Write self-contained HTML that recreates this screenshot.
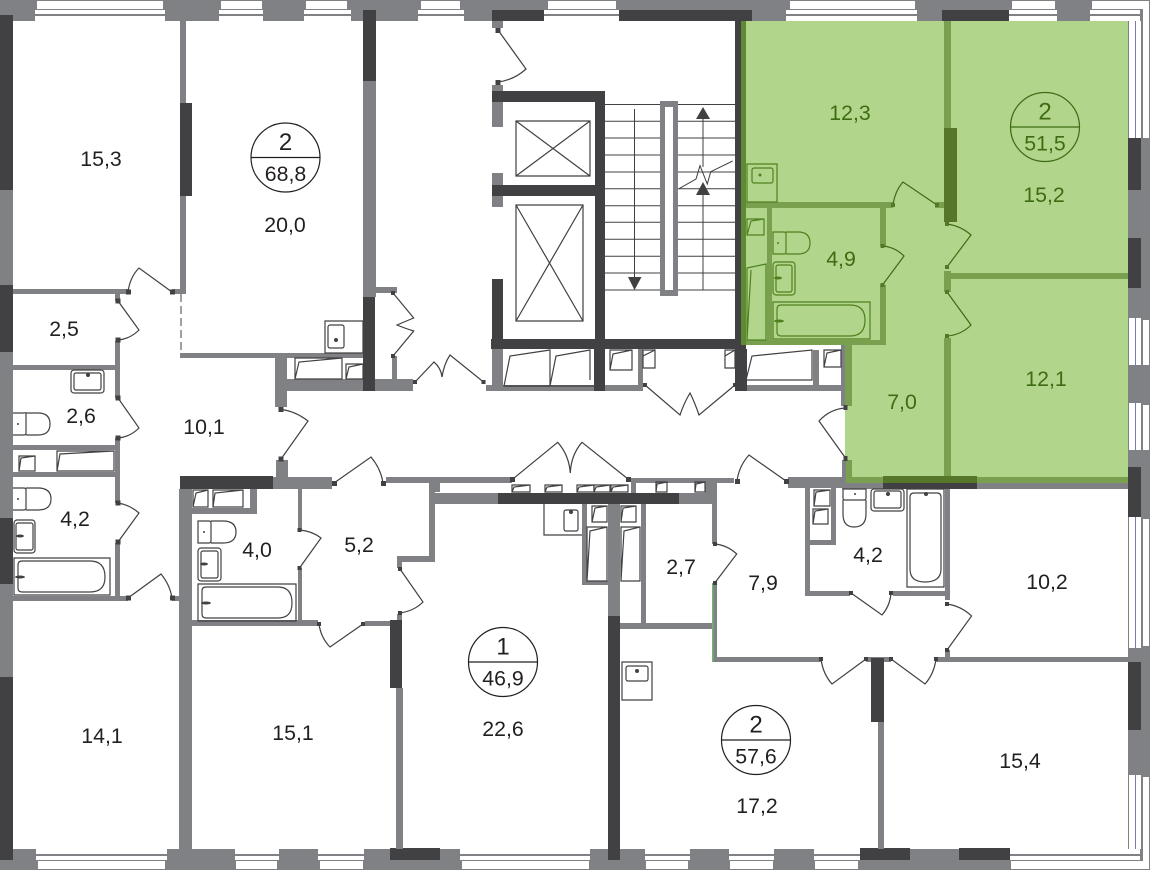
<!DOCTYPE html>
<html><head><meta charset="utf-8"><style>
html,body{margin:0;padding:0;background:#fff}
svg{display:block}
.w{fill:#808184}.d{fill:#414042}.g{fill:#78a04e}.dg{fill:#56762a}.wh{fill:#fff}
.f{fill:none;stroke:#414042;stroke-width:1.2}
.gf{fill:none;stroke:#4f7f1f;stroke-width:1.2}
.th{fill:none;stroke:#414042;stroke-width:1}
text{font-family:"Liberation Sans",sans-serif;font-size:21.3px;text-anchor:middle;fill:#231f20}
.gt text,text.gt{fill:#3f6b12}
</style></head><body>
<svg width="1150" height="870" viewBox="0 0 1150 870" xmlns="http://www.w3.org/2000/svg">
<rect width="1150" height="870" fill="#fff"/>
<!-- green apartment -->
<polygon points="743,21 1128,21 1128,484 845,484 845,345 743,345" fill="#b1d68b"/>
<!-- outer frame -->
<g class="w">
<rect x="0" y="0" width="1150" height="21"/>
<rect x="0" y="849" width="1150" height="21"/>
<rect x="0" y="0" width="13" height="870"/>
<rect x="1128" y="0" width="22" height="870"/>
</g>
<g class="d">
<rect x="0" y="15" width="13" height="175"/><rect x="0" y="285" width="13" height="67"/><rect x="0" y="518" width="13" height="66"/><rect x="0" y="677" width="13" height="183"/>
<rect x="492" y="10" width="52" height="11"/><rect x="619" y="10" width="133" height="11"/><rect x="942" y="10" width="67" height="11"/>
<rect x="390" y="848" width="50" height="12"/><rect x="860" y="848" width="50" height="12"/><rect x="959" y="848" width="51" height="12"/>
<rect x="1128" y="138" width="13" height="52"/><rect x="1128" y="238" width="13" height="50"/><rect x="1128" y="467" width="13" height="50"/><rect x="1128" y="662" width="13" height="68"/>
</g>
<!-- windows top -->
<g class="wh">
<rect x="37" y="1" width="126" height="8"/><rect x="35" y="10" width="130" height="4"/><rect x="35" y="16" width="130" height="5"/>
<rect x="221" y="1" width="41" height="8"/><rect x="219" y="10" width="44" height="4"/><rect x="219" y="16" width="44" height="5"/>
<rect x="306" y="1" width="41" height="8"/><rect x="304" y="10" width="47" height="4"/><rect x="304" y="16" width="47" height="5"/>
<rect x="421" y="1" width="39" height="8"/><rect x="418" y="10" width="46" height="4"/><rect x="418" y="16" width="46" height="5"/>
<rect x="548" y="1" width="68" height="8"/><rect x="544" y="10" width="75" height="4"/><rect x="544" y="16" width="75" height="5"/>
<rect x="790" y="1" width="125" height="8"/><rect x="786" y="10" width="131" height="4"/><rect x="786" y="16" width="131" height="5"/>
<rect x="1012" y="1" width="43" height="8"/><rect x="1009" y="10" width="48" height="4"/><rect x="1009" y="16" width="48" height="5"/>
<rect x="1092" y="1" width="57" height="8"/><rect x="1090" y="10" width="50" height="4"/><rect x="1090" y="16" width="50" height="5"/>
<!-- bottom -->
<rect x="36" y="849" width="131" height="5"/><rect x="36" y="856" width="131" height="4"/><rect x="38" y="861" width="127" height="8"/>
<rect x="235" y="849" width="44" height="5"/><rect x="235" y="856" width="44" height="4"/><rect x="236" y="861" width="41" height="8"/>
<rect x="318" y="849" width="46" height="5"/><rect x="318" y="856" width="46" height="4"/><rect x="320" y="861" width="43" height="8"/>
<rect x="460" y="849" width="130" height="5"/><rect x="460" y="856" width="130" height="4"/><rect x="462" y="861" width="127" height="8"/>
<rect x="645" y="849" width="45" height="5"/><rect x="645" y="856" width="45" height="4"/><rect x="646" y="861" width="42" height="8"/>
<rect x="729" y="849" width="45" height="5"/><rect x="729" y="856" width="45" height="4"/><rect x="730" y="861" width="43" height="8"/>
<rect x="814" y="849" width="46" height="5"/><rect x="814" y="856" width="46" height="4"/><rect x="815" y="861" width="43" height="8"/>
<rect x="1010" y="849" width="130" height="5"/><rect x="1010" y="856" width="130" height="4"/><rect x="1011" y="861" width="138" height="8"/>
<!-- right side -->
<rect x="1129" y="21" width="6" height="117"/><rect x="1136" y="21" width="5" height="117"/><rect x="1143" y="1" width="6" height="137"/>
<rect x="1129" y="318" width="6" height="47"/><rect x="1136" y="318" width="5" height="47"/><rect x="1143" y="320" width="6" height="45"/>
<rect x="1129" y="403" width="6" height="47"/><rect x="1136" y="403" width="5" height="47"/><rect x="1143" y="405" width="6" height="45"/>
<rect x="1129" y="517" width="6" height="131"/><rect x="1136" y="517" width="5" height="131"/><rect x="1143" y="519" width="6" height="127"/>
<rect x="1129" y="775" width="6" height="74"/><rect x="1136" y="775" width="5" height="74"/><rect x="1143" y="777" width="6" height="92"/>
</g>
<path d="M1135.5,775V849M1135.5,517V648M1135.5,403V450M1135.5,318V365M1135.5,21V138" stroke="#7a7aa8" stroke-width="1" fill="none"/>
<!-- interior gray walls -->
<g class="w">
<rect x="180" y="21" width="6" height="273"/><rect x="13" y="289" width="115" height="5"/><rect x="172" y="289" width="14" height="5"/>
<rect x="180" y="353" width="184" height="5"/>
<rect x="363" y="81" width="13" height="216"/>
<rect x="375" y="287" width="22" height="6"/>
<rect x="392" y="356" width="5" height="24"/>
<rect x="275" y="379" width="138" height="12"/>
<rect x="275" y="357" width="12" height="50"/><rect x="275" y="357" width="5" height="24"/>
<rect x="486" y="385" width="157" height="6"/>
<rect x="492" y="102" width="11" height="25"/><rect x="492" y="173" width="11" height="12"/><rect x="492" y="196" width="11" height="11"/>
<rect x="492" y="21" width="11" height="7"/><rect x="492" y="85" width="11" height="6"/>
<rect x="492" y="349" width="11" height="36"/><rect x="638" y="349" width="5" height="36"/>
<rect x="746" y="385" width="99" height="6"/>
<rect x="813" y="350" width="6" height="35"/><rect x="841" y="345" width="5" height="61"/>
<!-- left baths -->
<rect x="115" y="294" width="5" height="7"/><rect x="115" y="341" width="5" height="57"/><rect x="13" y="365" width="102" height="5"/>
<rect x="115" y="438" width="5" height="65"/><rect x="13" y="445" width="107" height="5"/><rect x="13" y="472" width="107" height="5"/>
<rect x="115" y="543" width="5" height="55"/><rect x="13" y="596" width="115" height="5"/><rect x="172" y="596" width="8" height="5"/>
<!-- lower-left -->
<rect x="276" y="460" width="12" height="18"/><rect x="273" y="477" width="59" height="12"/>
<rect x="386" y="477" width="126" height="6"/><rect x="429" y="477" width="11" height="15"/>
<rect x="179" y="489" width="13" height="360"/><rect x="192" y="508" width="65" height="6"/><rect x="250" y="489" width="7" height="25"/>
<rect x="298" y="489" width="4" height="41"/><rect x="298" y="568" width="4" height="55"/>
<rect x="192" y="620" width="126" height="6"/><rect x="365" y="621" width="26" height="5"/>
<rect x="429" y="482" width="6" height="80"/><rect x="400" y="556" width="35" height="6"/><rect x="397" y="556" width="5" height="12"/>
<rect x="397" y="614" width="5" height="8"/><rect x="396" y="688" width="7" height="161"/>
<rect x="435" y="493" width="64" height="11"/>
<!-- center -->
<rect x="631" y="478" width="103" height="5"/><rect x="631" y="478" width="5" height="15"/><rect x="679" y="493" width="38" height="11"/>
<rect x="705" y="478" width="12" height="15"/>
<rect x="712" y="504" width="5" height="40"/><rect x="712" y="583" width="5" height="77"/>
<rect x="608" y="504" width="12" height="112"/>
<rect x="641" y="504" width="5" height="119"/><rect x="620" y="623" width="93" height="6"/>
<rect x="582" y="504" width="5" height="81"/><rect x="582" y="581" width="26" height="4"/>
<rect x="713" y="657" width="108" height="5"/><rect x="866" y="657" width="25" height="5"/><rect x="936" y="657" width="192" height="5"/>
<rect x="878" y="722" width="6" height="127"/>
<!-- right block -->
<rect x="788" y="477" width="54" height="11"/><rect x="842" y="460" width="5" height="28"/>
<rect x="842" y="483" width="286" height="6"/>
<rect x="805" y="488" width="5" height="108"/><rect x="805" y="591" width="45" height="5"/><rect x="893" y="591" width="52" height="5"/>
<rect x="831" y="488" width="5" height="57"/><rect x="805" y="540" width="31" height="5"/>
<rect x="945" y="488" width="5" height="112"/><rect x="945" y="650" width="5" height="10"/>
</g>
<rect x="712" y="583" width="1.5" height="79" fill="#6fb56f"/>
<!-- dark walls -->
<g class="d">
<rect x="180" y="103" width="12" height="93"/>
<rect x="363" y="10" width="13" height="71"/><rect x="363" y="297" width="12" height="94"/>
<rect x="492" y="91" width="113" height="11"/><rect x="595" y="91" width="10" height="249"/><rect x="492" y="185" width="113" height="11"/>
<rect x="492" y="279" width="11" height="61"/><rect x="491" y="339" width="255" height="10"/>
<rect x="735" y="21" width="6" height="319"/><rect x="735" y="349" width="12" height="42"/><rect x="594" y="349" width="11" height="42"/>
<rect x="180" y="476" width="93" height="13"/>
<rect x="390" y="620" width="12" height="68"/>
<rect x="498" y="493" width="181" height="11"/>
<rect x="608" y="616" width="12" height="244"/>
<rect x="871" y="658" width="13" height="64"/>
<rect x="883" y="483" width="94" height="6"/>
</g>
<!-- green walls -->
<g class="g">
<rect x="741" y="340" width="145" height="5"/><rect x="746" y="202" width="147" height="6"/><rect x="935" y="202" width="10" height="6"/>
<rect x="944" y="21" width="7" height="107"/>
<rect x="880" y="208" width="6" height="38"/><rect x="880" y="285" width="6" height="60"/>
<rect x="767" y="208" width="5" height="132"/>
<rect x="845" y="345" width="7" height="61"/><rect x="846" y="460" width="6" height="23"/>
<rect x="944" y="271" width="7" height="21"/><rect x="944" y="338" width="7" height="140"/>
<rect x="951" y="273" width="177" height="6"/>
<rect x="846" y="477" width="282" height="6"/>
</g>
<g class="dg">
<rect x="741" y="21" width="5" height="324" fill="#5d8a33"/>
<rect x="944" y="128" width="13" height="94"/>
<rect x="883" y="476" width="94" height="7"/>
</g>
<!-- stairs -->
<path class="th" d="M605,104.5H660M678,104.5H735M605,121.3H660M678,121.3H735M605,138H660M678,138H735M605,155H660M678,155H735M605,172H660M678,172H735M605,188.7H660M678,188.7H735M605,205.7H660M678,205.7H735M605,222.3H660M678,222.3H735M605,239.3H660M678,239.3H735M605,256.3H660M678,256.3H735M605,273H660M678,273H735M605,290H660M678,290H735"/>
<rect x="660" y="101" width="18" height="195" class="w"/><rect x="665" y="107" width="8" height="183" class="wh"/>
<path class="th" d="M634.5,109V280M703,290V193M703,167V117"/>
<polygon class="d" points="628,277 641.500,277 634.500,290"/><polygon class="d" points="696,195 710,195 703,182"/><polygon class="d" points="696,119 710,119 703,107"/>
<path class="th" d="M679,188.700L696,179L700,165.700L707.300,184L710.700,171.700L732.700,161"/>
<!-- lifts -->
<path class="f" d="M516,121H590V176H516ZM516,121L590,176M590,121L516,176M516,205H583V321H516ZM516,205L583,321M583,205L516,321"/>
<!-- doors -->
<g class="f">
<path d="M128,292Q130,277 139,268L172,292"/><path d="M118,301L139,330Q130,339 118,340"/><path d="M118,398L139,428Q130,437 118,438"/>
<path d="M118,503Q130,505 139,513L118,542"/><path d="M128,598L161,574Q170,585 172,598"/>
<path d="M281,409.500Q295,411 308,421L281,459"/><path d="M334,483L371,457Q381,469 383,483"/>
<path d="M299.500,530Q312,531 321,538L299.500,568"/><path d="M400,569L423,602Q414,611 400,613"/><path d="M319,624Q321,638 330,647L363,624"/>
<path d="M512,479.700L557.700,442.300Q569,455 570.300,473Q571,455 582,442.300L628,479"/>
<path d="M714.700,544Q727,545 736.700,554L714.700,583"/><path d="M737,481Q739,466 749,455L786,481"/>
<path d="M851,593L882,615Q890,606 891,593"/><path d="M947,604Q961,606 971.600,616L947,650"/>
<path d="M821,659Q823,674 832,684L866,659"/><path d="M891,659L925,684Q934,674 936,659"/>
<path d="M645,385L680,415Q684,403 690,393Q695,403 699,415L735,385"/>
<path d="M498,30L526,69Q514,80 498,82"/>
<path d="M393,293L413.700,318Q404,322 397,325Q404,328 413.700,331L393,356"/>
<path d="M415,382L434,362Q441,368 442,377Q444,364 450,355L483.500,382"/>
<path d="M845.500,408Q830,409 819,421L845.500,458"/>
</g>
<g class="gf" style="stroke:#3f6b12">
<path d="M893,205Q895,191 903,182L937,205"/><path d="M947,224Q961,226 971,235L947,267"/>
<path d="M882.500,246Q895,247 904,256L882.500,285"/><path d="M947,292L971,325Q961,335 947,336"/>
</g>
<!-- hinges -->
<g class="d">
<rect x="126" y="289.500" width="5" height="5"/><rect x="170" y="289.500" width="5" height="5"/><rect x="115.500" y="298.500" width="5" height="5"/><rect x="115.500" y="337.500" width="5" height="5"/>
<rect x="115.500" y="395.500" width="5" height="5"/><rect x="115.500" y="435.500" width="5" height="5"/><rect x="115.500" y="500.500" width="5" height="5"/><rect x="115.500" y="539.500" width="5" height="5"/>
<rect x="126" y="595.500" width="5" height="5"/><rect x="170" y="595.500" width="5" height="5"/>
<rect x="278.500" y="407" width="5" height="5"/><rect x="278.500" y="456.500" width="5" height="5"/><rect x="332" y="481" width="5" height="5"/><rect x="381" y="481" width="5" height="5"/>
<rect x="297.500" y="528" width="4" height="4"/><rect x="297.500" y="566" width="4" height="4"/><rect x="398" y="567" width="4" height="4"/><rect x="398" y="611" width="4" height="4"/>
<rect x="317" y="622" width="4" height="4"/><rect x="361" y="622" width="4" height="4"/>
<rect x="510" y="477" width="5" height="5"/><rect x="626" y="477" width="5" height="5"/>
<rect x="713" y="542" width="4" height="4"/><rect x="713" y="581" width="4" height="4"/><rect x="735" y="479" width="5" height="5"/><rect x="784" y="479" width="5" height="5"/>
<rect x="849" y="591" width="4" height="4"/><rect x="889" y="591" width="4" height="4"/><rect x="945" y="602" width="4" height="4"/><rect x="945" y="648" width="4" height="4"/>
<rect x="819" y="657" width="4" height="4"/><rect x="864" y="657" width="4" height="4"/><rect x="889" y="657" width="4" height="4"/><rect x="934" y="657" width="4" height="4"/>
<rect x="643" y="383" width="4" height="4"/><rect x="733" y="383" width="4" height="4"/>
<rect x="495.500" y="28" width="5" height="5"/><rect x="495.500" y="80" width="5" height="5"/><rect x="391" y="291" width="4" height="4"/><rect x="391" y="354" width="4" height="4"/>
<rect x="413" y="380" width="4" height="4"/><rect x="481.500" y="380" width="4" height="4"/>
<rect x="843.500" y="405" width="4" height="5"/>
<rect x="843.500" y="456" width="4" height="5"/>
</g>
<g class="dg">
<rect x="891" y="203" width="4" height="4"/><rect x="935" y="203" width="4" height="4"/><rect x="945" y="222" width="4" height="4"/><rect x="945" y="265" width="4" height="4"/>
<rect x="880.500" y="244" width="4" height="4"/><rect x="880.500" y="283" width="4" height="4"/><rect x="945" y="290" width="4" height="4"/><rect x="945" y="334" width="4" height="4"/>
</g>
<!-- fixtures gray -->
<g class="f">
<rect x="71" y="370" width="33" height="23" rx="3"/><rect x="74" y="373" width="27" height="17" rx="2"/>
<path d="M13,413H24Q26,412 26,414V433Q26,435 24,435H13M26,413H38Q50,413 50,424Q50,435 38,435H26"/>
<path d="M19,456H35V471H19ZM19,471L21,458L35,456"/><path d="M57,451H114V471H57ZM57,471L60,454L114,451"/>
<path d="M13,488H24Q26,488 26,490V508Q26,510 24,510H13M26,488H38Q51,488 51,499Q51,510 38,510H26"/>
<rect x="14" y="520" width="21" height="33" rx="3"/><rect x="16" y="523" width="17" height="27" rx="2"/>
<path d="M14,558H110V595H14Z"/><path d="M22,561H90Q105,561 105,577Q105,592 90,592H22Q18,592 18,588V565Q18,561 22,561Z"/>
<path d="M325,321H363V353H325Z"/><rect x="328" y="325" width="16" height="23" rx="2"/>
<path d="M295,358H342V379H295ZM295,379L299,362L342,358"/><path d="M346,364H363V379H346ZM346,379L349,367L363,364"/>
<path d="M193,490H208V507H193ZM193,507L196,493L208,490"/><path d="M213,490H243V507H213ZM213,507L215,493L243,490"/>
<path d="M198,521H209Q211,521 211,523V541Q211,543 209,543H198Q198,543 198,541V523ZM211,521H223Q236,521 236,532Q236,543 223,543H211"/>
<rect x="198" y="548" width="23" height="33" rx="3"/><rect x="201" y="551" width="17" height="27" rx="2"/>
<path d="M198,584H296V621H198Z"/><path d="M206,587H278Q292,587 292,603Q292,618 278,618H206Q202,618 202,614V591Q202,587 206,587Z"/>
<path d="M504,386L510,356L550,350V386ZM550,386L556,356L590,350V380"/><path d="M504,386H595"/>
<path d="M610,350H632V370H610ZM610,370L613,354L632,350"/><path d="M643,350H655V368H643ZM643,368V356L655,350"/>
<path d="M725,350H735V368H725ZM725,368V356L735,350"/>
<path d="M746,380L752,356L812,350V380Z"/>
<path d="M824,350H841V367H824ZM824,367L827,353L841,350"/>
<path d="M512,485H530V492H512ZM512,492L514,487L530,485"/><path d="M545,485H562V492H545ZM545,492L547,487L562,485"/>
<path d="M577,485H594V492H577ZM577,492L579,487L594,485"/><path d="M594,485H610V492H594ZM594,492L596,487L610,485"/><path d="M611,485H628V492H611ZM611,492L613,487L628,485"/>
<path d="M656,482H667V492H656ZM656,492L657,484L667,482"/><path d="M695,482H705V492H695ZM695,492L696,484L705,482"/>
<path d="M544,504V535H582"/><rect x="564" y="510" width="14" height="21" rx="2"/>
<path d="M592,506H607V522H592ZM592,522L595,508L607,506"/><path d="M621,506H636V522H621ZM621,522L623,508L636,506"/>
<path d="M587,581V527H607V581ZM587,581L590,531L607,527"/><path d="M621,581V527H640V581ZM621,581L624,531L640,527"/>
<path d="M622,662H652V700H622Z"/><rect x="626" y="666" width="22" height="15" rx="2"/>
<path d="M814,490H830V506H814ZM814,506L816,492L830,490"/><path d="M813,509H828V524H813ZM813,524L815,511L828,509"/>
<path d="M843,489H866V498Q866,500 864,500H845Q843,500 843,498ZM843,500V514Q843,527 854,527Q866,527 866,514V500"/>
<rect x="871" y="489" width="33" height="22" rx="3"/><rect x="874" y="491" width="27" height="17" rx="2"/>
<path d="M907,489H944V587H907Z"/><path d="M910,497Q910,493 914,493H937Q941,493 941,497V569Q941,582 925,582Q910,582 910,569Z"/>
</g>
<g fill="#414042">
<circle cx="88" cy="375" r="2"/><circle cx="18" cy="424" r="1"/><circle cx="18" cy="499" r="1"/><ellipse cx="20" cy="536" rx="4" ry="1.500"/><ellipse cx="20" cy="577" rx="5" ry="1.500"/>
<circle cx="336" cy="340" r="2"/><circle cx="204" cy="532" r="1"/><ellipse cx="204" cy="564" rx="4" ry="1.500"/><ellipse cx="206" cy="603" rx="5" ry="1.500"/>
<circle cx="571" cy="512" r="2"/><circle cx="637" cy="671" r="2"/><circle cx="855" cy="494" r="1"/><circle cx="888" cy="494" r="2"/><circle cx="926" cy="494" r="2"/>
</g>
<!-- fixtures green -->
<g class="gf">
<path d="M747,164H777V202H747Z"/><rect x="752" y="168" width="21" height="15" rx="2"/>
<path d="M747,219H764V235H747ZM747,235L751,221L764,219"/><path d="M747,340V268L766,264V340ZM747,340L751,270"/>
<path d="M773,232H784Q786,232 786,234V252Q786,254 784,254H773ZM786,232H798Q810,232 810,243Q810,254 798,254H786"/>
<rect x="773" y="262" width="22" height="33" rx="3"/><rect x="776" y="265" width="16" height="27" rx="2"/>
<path d="M773,302H870V339H773Z"/><path d="M781,305H850Q865,305 865,320Q865,336 850,336H781Q777,336 777,332V309Q777,305 781,305Z"/>
</g>
<g fill="#4f7f1f"><circle cx="760" cy="175" r="1.500"/><circle cx="778" cy="243" r="1"/><ellipse cx="778" cy="278" rx="4" ry="1.500"/><ellipse cx="779" cy="321" rx="5" ry="1.500"/></g>
<!-- dashed -->
<path d="M181,294V352" stroke="#414042" stroke-width="1" stroke-dasharray="8 4" fill="none"/>
<!-- circles -->
<g fill="none" stroke="#231f20" stroke-width="1.200">
<circle cx="285.500" cy="157.500" r="34.500"/><path d="M251,157.500H320"/>
<circle cx="503" cy="662" r="34.500"/><path d="M468.500,662H537.500"/>
<circle cx="756" cy="740" r="34.500"/><path d="M721.500,740H790.500"/>
</g>
<g fill="none" stroke="#3f6b12" stroke-width="1.200"><circle cx="1045" cy="127" r="34.500"/><path d="M1010.500,127H1079.500"/></g>
<!-- labels -->
<text x="101" y="166">15,3</text><text x="64" y="336">2,5</text><text x="81" y="423">2,6</text><text x="204" y="434">10,1</text><text x="75" y="526">4,2</text><text x="102" y="743">14,1</text>
<text x="285" y="232">20,0</text><text x="257" y="557">4,0</text><text x="359" y="552">5,2</text><text x="293" y="740">15,1</text><text x="503" y="736">22,6</text><text x="681" y="574">2,7</text>
<text x="763" y="590">7,9</text><text x="868" y="562">4,2</text><text x="1047" y="589">10,2</text><text x="757" y="813">17,2</text><text x="1020" y="768">15,4</text>
<text x="285.500" y="150" style="font-size:24px">2</text><text x="285.500" y="181">68,8</text>
<text x="503" y="654.500" style="font-size:24px">1</text><text x="503" y="685.500">46,9</text>
<text x="756" y="732.500" style="font-size:24px">2</text><text x="756" y="763.500">57,6</text>
<g class="gt">
<text x="850" y="120">12,3</text><text x="1044" y="202">15,2</text><text x="841" y="266">4,9</text><text x="902" y="409">7,0</text><text x="1046" y="386">12,1</text>
<text x="1045" y="119.500" style="font-size:24px">2</text><text x="1045" y="150.500">51,5</text>
</g>
</svg>
</body></html>
